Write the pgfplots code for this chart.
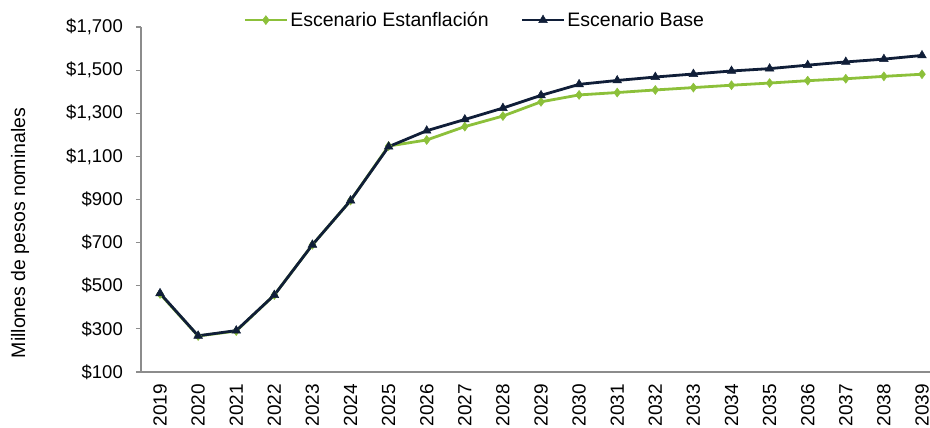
\documentclass[border=0pt]{standalone}
\usepackage{pgfplots}
\pgfplotsset{compat=1.18}
\usepackage{fontspec}
\setmainfont{Liberation Sans}
\definecolor{lgreen}{RGB}{140,192,58}
\definecolor{navy}{RGB}{16,30,56}
\definecolor{axgray}{RGB}{140,140,140}
\begin{document}
\begin{tikzpicture}
\begin{axis}[
  scale only axis,
  width=789pt, height=345pt,
  xmin=-0.5, xmax=20.21,
  ymin=100, ymax=1700,
  clip=false,
  axis lines=left,
  axis line style={-, draw=axgray, line width=1.2pt},
  tick align=outside,
  tick style={draw=axgray, line width=1.2pt},
  font=\fontsize{19.5}{22}\selectfont,
  /pgf/number format/assume math mode=true,
  ytick={100,300,500,700,900,1100,1300,1500,1700},
  yticklabels={{\$100},{\$300},{\$500},{\$700},{\$900},{\$1,100},{\$1,300},{\$1,500},{\$1,700}},
  major tick length=5pt,
  yticklabel style={inner sep=0pt, font=\fontsize{18.5}{22}\selectfont},
  yticklabel shift=13pt,
  xtick={0,...,20},
  xticklabels={2019,2020,2021,2022,2023,2024,2025,2026,2027,2028,2029,2030,2031,2032,2033,2034,2035,2036,2037,2038,2039},
  xtick style={draw=none},
  xticklabel style={rotate=90, anchor=east, inner sep=0pt, font=\fontsize{19}{22}\selectfont},
  xticklabel shift=7pt,
  extra x ticks={-0.5,0.5,1.5,2.5,3.5,4.5,5.5,6.5,7.5,8.5,9.5,10.5,11.5,12.5,13.5,14.5,15.5,16.5,17.5,18.5,19.5},
  extra x tick labels={},
  extra x tick style={tick style={draw=axgray, line width=1.2pt}, major tick length=6pt},
  ylabel={Millones de pesos nominales},
  ylabel style={at={(axis description cs:-0.1534,0.403)}, anchor=center, rotate=0},
  legend columns=2,
  legend style={draw=none, fill=none, at={(axis description cs:0.423,1.02)}, anchor=center,
    /tikz/every even column/.append style={column sep=30pt}, font=\fontsize{19.5}{22}\selectfont},
  legend image code/.code={\draw[mark repeat=2,mark phase=2] plot coordinates {(0pt,0pt)(21pt,0pt)(42pt,0pt)};},
]
\addplot[lgreen, line width=2.8pt, mark=diamond*, mark size=4.5pt, mark options={solid, fill=lgreen, line width=0.5pt}]
coordinates {(0,462)(1,267)(2,290)(3,457)(4,690)(5,895)(6,1148)(7,1176)(8,1238)(9,1287)(10,1353)(11,1385)(12,1396)(13,1408)(14,1419)(15,1430)(16,1440)(17,1451)(18,1460)(19,1471)(20,1481)};
\addlegendentry{Escenario Estanflación}
\addplot[navy, line width=2.8pt, mark=triangle*, mark size=5pt, mark options={solid, fill=navy, line width=0.5pt}]
coordinates {(0,465)(1,268)(2,292)(3,457)(4,690)(5,895)(6,1145)(7,1219)(8,1271)(9,1324)(10,1383)(11,1434)(12,1452)(13,1468)(14,1482)(15,1496)(16,1507)(17,1523)(18,1538)(19,1551)(20,1568)};
\addlegendentry{Escenario Base}
\end{axis}
\pgfresetboundingbox
\path[use as bounding box] (-141pt,-56pt) rectangle (789pt,372pt);
\end{tikzpicture}
\end{document}
